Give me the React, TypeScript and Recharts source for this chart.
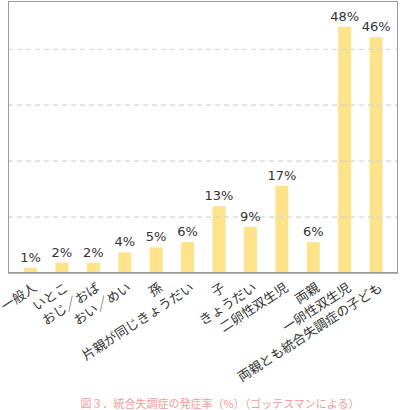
import { BarChart, Bar, XAxis, YAxis, ReferenceLine, LabelList } from 'recharts'

const categories = [
  '一般人',
  'いとこ',
  'おじ／おば',
  'おい／めい',
  '孫',
  '片親が同じきょうだい',
  '子',
  'きょうだい',
  '二卵性双生児',
  '両親',
  '一卵性双生児',
  '両親とも統合失調症の子ども',
]
const rates = [1, 2, 2, 4, 5, 6, 13, 9, 17, 6, 48, 46]
const gridTicks = [10.9, 21.8, 32.7, 43.6]

const data = categories.map((name, i) => ({ name, rate: rates[i] }))

const jpFont = '"Noto Sans CJK JP", "Noto Sans", sans-serif'

function SlantedTick(props: any) {
  const { x, y, payload } = props
  return (
    <g transform={`translate(${x + 7},${y + 9})`}>
      <text
        x={0}
        y={0}
        transform="rotate(-33)"
        textAnchor="end"
        fontSize={13}
        fontFamily={jpFont}
        fill="#333"
      >
        {payload.value}
      </text>
    </g>
  )
}

export default function App() {
  return (
    <div style={{ position: 'absolute', left: 0, top: 0, width: 402, height: 410, background: '#fff' }}>
      <BarChart
        width={402}
        height={410}
        data={data}
        margin={{ top: 1, right: 4, bottom: 0, left: 8 }}
      >
        {gridTicks.map((v) => (
          <ReferenceLine key={v} y={v} stroke="#d4d4d4" strokeWidth={1.2} strokeDasharray="5 4" />
        ))}
        <XAxis
          dataKey="name"
          interval={0}
          tickLine={false}
          stroke="#9a9a9a"
          strokeWidth={1.5}
          tick={<SlantedTick />}
          padding={{ left: 7, right: 6 }}
          height={137}
        />
        <YAxis domain={[0, 53]} width={0} tick={false} tickLine={false} stroke="#9a9a9a" strokeWidth={1.5} />
        <Bar dataKey="rate" fill="#FFE38A" barSize={13} isAnimationActive={false}>
          <LabelList
            dataKey="rate"
            position="top"
            offset={6}
            formatter={(v: any) => `${v}%`}
            style={{ fontSize: 13, fontFamily: '"DejaVu Sans", sans-serif', fill: '#333' }}
          />
        </Bar>
      </BarChart>
      <div
        style={{
          position: 'absolute',
          left: 8,
          top: 1,
          width: 390,
          height: 272,
          boxSizing: 'border-box',
          border: '1.5px solid #9a9a9a',
          pointerEvents: 'none',
        }}
      />
      <div
        style={{
          position: 'absolute',
          left: 0,
          width: 440,
          top: 396,
          textAlign: 'center',
          fontSize: 11,
          fontFamily: jpFont,
          color: '#F49A9A',
          lineHeight: '14px',
        }}
      >
        図３．統合失調症の発症率（%）（ゴッテスマンによる）
      </div>
    </div>
  )
}
